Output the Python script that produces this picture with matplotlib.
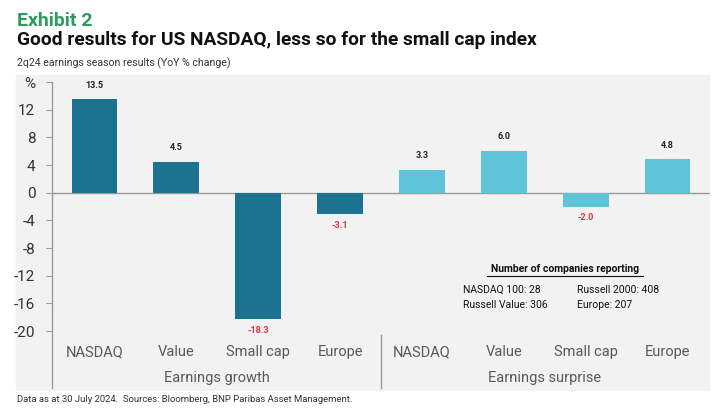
import matplotlib.pyplot as plt
import matplotlib.transforms as mtransforms
from matplotlib.patches import Rectangle
from matplotlib.lines import Line2D

plt.rcParams['font.family'] = ['Roboto', 'DejaVu Sans']

# Data
categories = ['NASDAQ', 'Value', 'Small cap', 'Europe',
              'NASDAQ', 'Value', 'Small cap', 'Europe']
growth = [13.5, 4.5, -18.3, -3.1]
surprise = [3.3, 6.0, -2.0, 4.8]
groups = ['Earnings growth', 'Earnings surprise']
yticks = [16, 12, 8, 4, 0, -4, -8, -12, -16, -20]
ytick_labels = ['%', '12', '8', '4', '0', '-4', '-8', '-12', '-16', '-20']
companies = ['NASDAQ 100: 28', 'Russell 2000: 408', 'Russell Value: 306', 'Europe: 207']

dark = '#1b7391'
light = '#5fc3da'
panel = '#f2f2f2'
grey_text = '#595959'

W, H = 725, 416
fig = plt.figure(figsize=(W / 100, H / 100), dpi=100)

# light grey panel behind the chart
fig.patches.append(Rectangle((16 / W, 1 - 390 / H), (709 - 16) / W, (390 - 75) / H,
                             transform=fig.transFigure, color=panel, zorder=-5))

ax = fig.add_axes([52 / W, 1 - 338 / H, (710 - 52) / W, (338 - 82) / H])
ax.set_facecolor('none')
ax.set_zorder(2)

values = growth + surprise
colors = [dark] * len(growth) + [light] * len(surprise)
x = list(range(len(values)))
ax.bar(x, values, width=0.56, color=colors, zorder=2)
ax.axhline(0, color='#9a9a9a', lw=1, zorder=1)

for xi, v in zip(x, values):
    if v >= 0:
        ax.annotate(f'{v:.1f}', (xi, v), xytext=(0, 7), textcoords='offset points',
                    ha='center', va='bottom', fontsize=6.5, fontweight='bold', color='#222222')
    else:
        ax.annotate(f'{v:.1f}', (xi, v), xytext=(0, -5), textcoords='offset points',
                    ha='center', va='top', fontsize=6.5, fontweight='bold', color='#e0303a')

ax.set_xlim(-0.52, 7.52)
ax.set_ylim(-21, 16)
ax.set_yticks(yticks)
ax.set_yticklabels(ytick_labels)
ax.tick_params(axis='y', length=4, color='#9a9a9a', labelsize=11, labelcolor='#333333', pad=8)
ax.set_xticks(x)
ax.set_xticklabels(categories)
ax.tick_params(axis='x', length=0, labelsize=10.5, labelcolor=grey_text, pad=5)
for s in ax.spines.values():
    s.set_visible(False)

# y axis line extending down past the category labels
ax.add_line(Line2D([0, 0], [-0.195, 1.0], transform=ax.transAxes, color='#9a9a9a',
                   lw=1, clip_on=False))
# separator between the two groups
trans = mtransforms.blended_transform_factory(ax.transData, ax.transAxes)
ax.add_line(Line2D([3.5, 3.5], [0.012, -0.195], transform=trans, color='#9a9a9a',
                   lw=1, clip_on=False))
for gx, g in zip([1.5, 5.5], groups):
    ax.text(gx, -0.155, g, transform=trans, ha='center', va='center',
            fontsize=10.5, color=grey_text)

# number of companies box
fig.text(565 / W, 1 - 269 / H, 'Number of companies reporting',
         ha='center', va='center', fontsize=7.5, fontweight='bold', color='#111111')
fig.add_artist(Line2D([487 / W, 643 / W], [1 - 276 / H, 1 - 276 / H], color='#111111', lw=0.8))
for i, txt in enumerate(companies):
    px = 463 if i % 2 == 0 else 577
    py = 290 if i < 2 else 305
    fig.text(px / W, 1 - py / H, txt, ha='left', va='center', fontsize=7.5, color='#111111')

# titles
fig.text(17 / W, 1 - 21 / H, 'Exhibit 2', ha='left', va='center', fontsize=14,
         fontweight='bold', color='#2e9a5c')
fig.text(17 / W, 1 - 40 / H, 'Good results for US NASDAQ, less so for the small cap index',
         ha='left', va='center', fontsize=13.8, fontweight='bold', color='#111111')
fig.text(17 / W, 1 - 63 / H, '2q24 earnings season results (YoY % change)',
         ha='left', va='center', fontsize=7.6, color='#333333')
fig.text(17 / W, 1 - 400 / H, 'Data as at 30 July 2024.  Sources: Bloomberg, BNP Paribas Asset Management.',
         ha='left', va='center', fontsize=6.8, color='#333333')

fig.savefig('out.png', dpi=100)
